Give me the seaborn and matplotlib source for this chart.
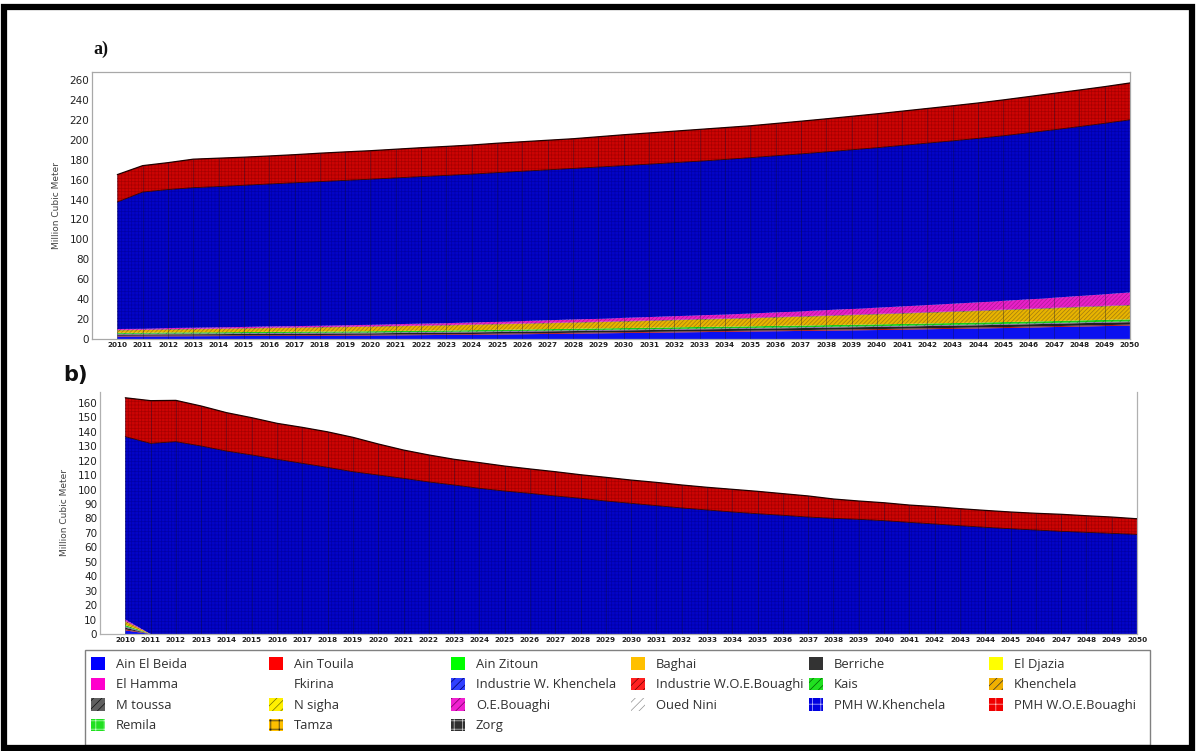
import numpy as np
import matplotlib
matplotlib.use("Agg")
import matplotlib.pyplot as plt
import seaborn as sns
from matplotlib.patches import Patch, Rectangle

sns.set_style("white")
plt.rcParams["font.family"] = ["DejaVu Sans"]
plt.rcParams["hatch.linewidth"] = 0.5

# ---------------- data ----------------
years = list(range(2010, 2051))
year_labels = [str(y) for y in years]
yticks_a = list(range(0, 261, 20))
yticks_b = list(range(0, 161, 10))

names = ["Ain El Beida", "Ain Touila", "Ain Zitoun", "Baghai", "Berriche", "El Djazia",
         "El Hamma", "Fkirina", "Industrie W. Khenchela", "Industrie W.O.E.Bouaghi", "Kais", "Khenchela",
         "M toussa", "N sigha", "O.E.Bouaghi", "Oued Nini", "PMH W.Khenchela", "PMH W.O.E.Bouaghi",
         "Remila", "Tamza", "Zorg"]

# panel a) (million m3 per year, 2010..2050)
ain_el_beida_a = [2.5, 2.6, 2.7, 2.8, 2.9, 3.0, 3.1, 3.2, 3.3, 3.4, 3.5, 3.7, 3.9, 4.1, 4.3, 4.5,
                  4.8, 5.1, 5.4, 5.7, 6.0, 6.3, 6.6, 6.9, 7.2, 7.5, 7.8, 8.1, 8.4, 8.7, 9.0,
                  9.4, 9.8, 10.2, 10.6, 11.0, 11.5, 12.0, 12.5, 13.0, 13.5]
ain_touila_a = [0.7, 0.7, 0.7, 0.7, 0.7, 0.7, 0.7, 0.7, 0.7, 0.7, 0.7, 0.7, 0.7, 0.7, 0.7,
                0.8, 0.8, 0.8, 0.8, 0.8, 0.8, 0.8, 0.8, 0.8, 0.8, 0.8, 0.8, 0.8,
                0.9, 0.9, 0.9, 0.9, 0.9, 0.9, 0.9, 0.9, 0.9, 0.9, 0.9, 0.9, 0.9]
berriche_a = [1.2, 1.2, 1.3, 1.3, 1.3, 1.4, 1.4, 1.4, 1.5, 1.5, 1.5, 1.6, 1.6, 1.6, 1.7, 1.7,
              1.7, 1.8, 1.8, 1.8, 1.9, 1.9, 1.9, 2.0, 2.0, 2.0, 2.1, 2.1, 2.1, 2.2, 2.2,
              2.2, 2.3, 2.3, 2.3, 2.4, 2.4, 2.4, 2.5, 2.5, 2.5]
el_hamma_a = [0.3, 0.3, 0.3, 0.3, 0.3, 0.3, 0.3, 0.3, 0.3, 0.3, 0.3, 0.3, 0.3, 0.3, 0.3, 0.3,
              0.3, 0.3, 0.3, 0.3, 0.3, 0.3, 0.3, 0.3, 0.3, 0.3, 0.3, 0.3, 0.3, 0.3, 0.3,
              0.3, 0.3, 0.3, 0.3, 0.3, 0.3, 0.3, 0.3, 0.3, 0.3]
ind_w_khenchela_a = [0.5, 0.5, 0.5, 0.5, 0.5, 0.5, 0.5, 0.5, 0.5, 0.5, 0.5, 0.5, 0.5, 0.5, 0.5, 0.5,
                     0.5, 0.5, 0.5, 0.5, 0.5, 0.5, 0.5, 0.5, 0.5, 0.5, 0.5, 0.5, 0.5, 0.5, 0.5,
                     0.5, 0.5, 0.5, 0.5, 0.5, 0.5, 0.5, 0.5, 0.5, 0.5]
kais_a = [1.0, 1.0, 1.1, 1.1, 1.1, 1.1, 1.2, 1.2, 1.2, 1.2, 1.3, 1.3, 1.3, 1.3, 1.4, 1.4,
          1.4, 1.4, 1.5, 1.5, 1.5, 1.5, 1.6, 1.6, 1.6, 1.6, 1.7, 1.7, 1.7, 1.7, 1.8,
          1.8, 1.8, 1.8, 1.9, 1.9, 1.9, 1.9, 2.0, 2.0, 2.0]
khenchela_a = [2.5, 2.7, 2.9, 3.1, 3.3, 3.5, 3.7, 3.9, 4.1, 4.3, 4.5, 4.7, 4.9, 5.1, 5.3, 5.5,
               5.7, 5.9, 6.1, 6.3, 6.5, 6.8, 7.1, 7.4, 7.7, 8.0, 8.4, 8.8, 9.2, 9.6, 10.0,
               10.4, 10.8, 11.2, 11.6, 12.0, 12.4, 12.8, 13.2, 13.6, 14.0]
m_toussa_a = [0.4, 0.4, 0.4, 0.4, 0.4, 0.4, 0.4, 0.4, 0.4, 0.4, 0.4, 0.4, 0.4, 0.4, 0.4, 0.4,
              0.4, 0.4, 0.4, 0.4, 0.5, 0.5, 0.5, 0.5, 0.5, 0.5, 0.5, 0.5, 0.5, 0.5, 0.5,
              0.5, 0.5, 0.5, 0.5, 0.5, 0.5, 0.5, 0.5, 0.5, 0.5]
oe_bouaghi_a = [1.0, 1.0, 1.1, 1.1, 1.2, 1.2, 1.3, 1.3, 1.4, 1.5, 1.6, 1.7, 1.8, 1.9, 2.0, 2.2,
                2.4, 2.6, 2.8, 3.0, 3.2, 3.4, 3.6, 3.8, 4.0, 4.3, 4.6, 5.0, 5.4, 5.8, 6.2,
                6.7, 7.2, 7.7, 8.2, 8.8, 9.4, 10.1, 10.8, 11.6, 12.5]
pmh_w_khenchela_a = [127.4, 137.1, 139.0, 140.6, 141.3, 142.2, 143.0, 143.9, 144.6, 145.4, 146.1,
                     146.8, 147.6, 148.3, 148.9, 149.7, 150.4, 151.0, 151.6, 152.3, 152.8,
                     153.5, 154.1, 154.7, 155.6, 156.5, 157.2, 158.0, 158.8, 159.7, 160.6,
                     161.6, 162.5, 163.5, 164.6, 165.7, 167.2, 168.6, 170.0, 171.6, 173.3]
pmh_w_oeb_a = [27.5, 26.5, 27.0, 28.6, 28.5, 28.2, 28.1, 28.2, 28.5, 28.6, 28.6, 28.8, 29.0, 29.1,
               29.2, 29.5, 29.6, 29.7, 29.8, 30.4, 31.0, 31.3, 31.6, 31.9, 32.0, 32.0, 32.4,
               32.8, 33.2, 33.6, 34.0, 34.4, 34.8, 35.2, 35.5, 36.0, 36.3, 36.6, 36.7, 36.8, 37.0]

# panel b)
ain_el_beida_b = [2.5] + [0.0] * 40
ain_touila_b = [0.7] + [0.0] * 40
berriche_b = [1.2] + [0.0] * 40
el_hamma_b = [0.3] + [0.0] * 40
ind_w_khenchela_b = [0.5] + [0.0] * 40
kais_b = [1.0] + [0.0] * 40
khenchela_b = [2.5] + [0.0] * 40
m_toussa_b = [0.4] + [0.0] * 40
oe_bouaghi_b = [1.0] + [0.0] * 40
pmh_w_khenchela_b = [126.6, 132.0, 133.2, 130.2, 126.7, 124.0, 121.0, 118.2, 115.4, 112.4, 110.1,
                     107.8, 105.3, 103.2, 100.9, 99.0, 97.4, 95.6, 94.0, 92.1, 90.5, 88.9, 87.3,
                     85.9, 84.5, 83.3, 82.2, 81.0, 80.1, 79.4, 78.5, 77.3, 76.2, 75.0, 73.9,
                     72.9, 72.0, 71.1, 70.4, 69.7, 69.0]
pmh_w_oeb_b = [26.9, 29.6, 28.6, 27.7, 26.6, 25.8, 24.9, 24.9, 24.6, 23.8, 21.5, 19.6, 18.7, 17.8,
               17.8, 17.3, 16.9, 16.8, 16.3, 16.4, 16.1, 16.1, 15.9, 15.7, 15.7, 15.5, 15.0,
               14.6, 13.4, 12.7, 12.4, 12.0, 12.0, 11.8, 11.7, 11.6, 11.6, 11.8, 11.5, 11.3, 10.8]

layers_a = {"Ain El Beida": ain_el_beida_a, "Ain Touila": ain_touila_a, "Berriche": berriche_a,
            "El Hamma": el_hamma_a, "Industrie W. Khenchela": ind_w_khenchela_a, "Kais": kais_a,
            "Khenchela": khenchela_a, "M toussa": m_toussa_a, "O.E.Bouaghi": oe_bouaghi_a,
            "PMH W.Khenchela": pmh_w_khenchela_a, "PMH W.O.E.Bouaghi": pmh_w_oeb_a}
layers_b = {"Ain El Beida": ain_el_beida_b, "Ain Touila": ain_touila_b, "Berriche": berriche_b,
            "El Hamma": el_hamma_b, "Industrie W. Khenchela": ind_w_khenchela_b, "Kais": kais_b,
            "Khenchela": khenchela_b, "M toussa": m_toussa_b, "O.E.Bouaghi": oe_bouaghi_b,
            "PMH W.Khenchela": pmh_w_khenchela_b, "PMH W.O.E.Bouaghi": pmh_w_oeb_b}

# ---------------- styles ----------------
legend_style = {
    "Ain El Beida": ("#0000FF", None, "none"),
    "Ain Touila": ("#FF0000", None, "none"),
    "Ain Zitoun": ("#00FF00", None, "none"),
    "Baghai": ("#FFC000", None, "none"),
    "Berriche": ("#333333", None, "none"),
    "El Djazia": ("#FFFF00", None, "none"),
    "El Hamma": ("#FF00CC", None, "none"),
    "Fkirina": ("none", None, "none"),
    "Industrie W. Khenchela": ("#3040FF", "////", "#000060"),
    "Industrie W.O.E.Bouaghi": ("#FF2020", "////", "#700000"),
    "Kais": ("#20E020", "////", "#006000"),
    "Khenchela": ("#F0B000", "////", "#303030"),
    "M toussa": ("#606060", "////", "#101010"),
    "N sigha": ("#FFF000", "////", "#707000"),
    "O.E.Bouaghi": ("#F020D0", "////", "#700060"),
    "Oued Nini": ("#FFFFFF", "////", "#909090"),
    "PMH W.Khenchela": ("#0000E0", "++", "#C0C0FF"),
    "PMH W.O.E.Bouaghi": ("#F00000", "++", "#FFC0C0"),
    "Remila": ("#20E020", "++", "#C0FFC0"),
    "Tamza": ("#FFC000", "++", "#202020"),
    "Zorg": ("#303030", "++", "#D0D0D0"),
}
area_style = {
    "Ain El Beida": ("#0A10F0", None, "none"),
    "Ain Touila": ("#B00000", None, "none"),
    "Berriche": ("#202020", None, "none"),
    "El Hamma": ("#9A5A9A", None, "none"),
    "Industrie W. Khenchela": ("#5050A0", "////", "#303070"),
    "Kais": ("#18D018", "////", "#10A010"),
    "Khenchela": ("#E8B400", "////////", "#A07A10"),
    "M toussa": ("#404040", "////", "#101010"),
    "O.E.Bouaghi": ("#E820C8", "////////", "#B01898"),
    "PMH W.Khenchela": ("#0404C8", "+++++", "#0000A8"),
    "PMH W.O.E.Bouaghi": ("#CC0404", "+++++", "#A80000"),
}

W, H = 1196, 751
fig = plt.figure(figsize=(W / 100, H / 100), dpi=100)
fig.patch.set_facecolor("white")


def draw_panel(ax, layers):
    base = np.zeros(len(years))
    top_blue = None
    for name in names:
        if name not in layers:
            continue
        vals = np.asarray(layers[name], dtype=float)
        top = base + vals
        face, hatch, hc = area_style[name]
        ax.fill_between(years, base, top, facecolor=face, edgecolor=hc, hatch=hatch,
                        linewidth=0, zorder=2)
        if name == "PMH W.Khenchela":
            top_blue = top.copy()
        base = top
    ax.vlines(years, 0, base, colors="#101030", linewidth=0.6, alpha=0.4, zorder=3)
    sns.lineplot(x=years, y=top_blue, ax=ax, color="#300000", linewidth=0.6, zorder=4)
    sns.lineplot(x=years, y=base, ax=ax, color="#200000", linewidth=0.9, zorder=4)
    ax.set_xticks(years)
    ax.set_xticklabels(year_labels, fontsize=5.2, fontweight="bold", color="#202020")
    ax.tick_params(axis="both", length=0, pad=2)
    ax.set_xlim(2009, 2050)
    ax.set_xlabel("")


# panel a
ax1 = fig.add_axes([92 / W, 1 - 339 / H, (1130 - 92) / W, (339 - 72) / H])
draw_panel(ax1, layers_a)
ax1.set_ylim(0, 268)
ax1.set_yticks(yticks_a)
ax1.set_yticklabels([str(v) for v in yticks_a], fontsize=7.5, color="#202020")
for s in ax1.spines.values():
    s.set_color("#A8A8A8")
    s.set_linewidth(0.9)
ax1.set_ylabel("Million Cubic Meter", fontsize=6.5, color="#404040", labelpad=6)

# panel b
ax2 = fig.add_axes([100 / W, 1 - 634 / H, (1137 - 100) / W, (634 - 392) / H])
draw_panel(ax2, layers_b)
ax2.set_ylim(0, 167.6)
ax2.set_yticks(yticks_b)
ax2.set_yticklabels([str(v) for v in yticks_b], fontsize=7.5, color="#202020")
ax2.spines["top"].set_visible(False)
for k in ["left", "right", "bottom"]:
    ax2.spines[k].set_color("#B0B0B0")
    ax2.spines[k].set_linewidth(0.9)
ax2.set_ylabel("Million Cubic Meter", fontsize=6.5, color="#404040", labelpad=6)

# panel labels
fig.text(93 / W, 1 - 49 / H, "a)", fontsize=13, fontweight="bold",
         family="Liberation Serif", color="#101010", va="center")
fig.text(63 / W, 1 - 375 / H, "b)", fontsize=15, fontweight="bold",
         family="DejaVu Sans", color="#101010", va="center")

# legend: six equally spaced columns, row-major order as in the reference
handles = []
for n in names:
    face, hatch, hc = legend_style[n]
    handles.append(Patch(facecolor=face, edgecolor=hc, hatch=hatch, linewidth=0))
ncol = 6
col_x = [85, 263, 445, 625, 803, 983]
for c in range(ncol):
    idx = list(range(c, len(names), ncol))
    lg = fig.legend([handles[i] for i in idx], [names[i] for i in idx], loc="upper left",
                    bbox_to_anchor=(col_x[c] / W, 1 - 651 / H), frameon=False,
                    borderaxespad=0, borderpad=0.47,
                    prop={"family": "Open Sans", "size": 9.4}, handlelength=1.1,
                    handleheight=1.1, handletextpad=0.8, labelspacing=0.52)
    for t in lg.get_texts():
        t.set_color("#303030")

fig.add_artist(Rectangle((85 / W, 1 - 745 / H), 1065 / W, 95 / H, transform=fig.transFigure,
                         fill=False, edgecolor="#808080", linewidth=1.0, zorder=9))

# outer black frame
fig.add_artist(Rectangle((4 / W, 3 / H), (W - 8) / W, (H - 10) / H, transform=fig.transFigure,
                         fill=False, edgecolor="black", linewidth=4.5, zorder=10))

fig.savefig("out.png", dpi=100, facecolor="white")
